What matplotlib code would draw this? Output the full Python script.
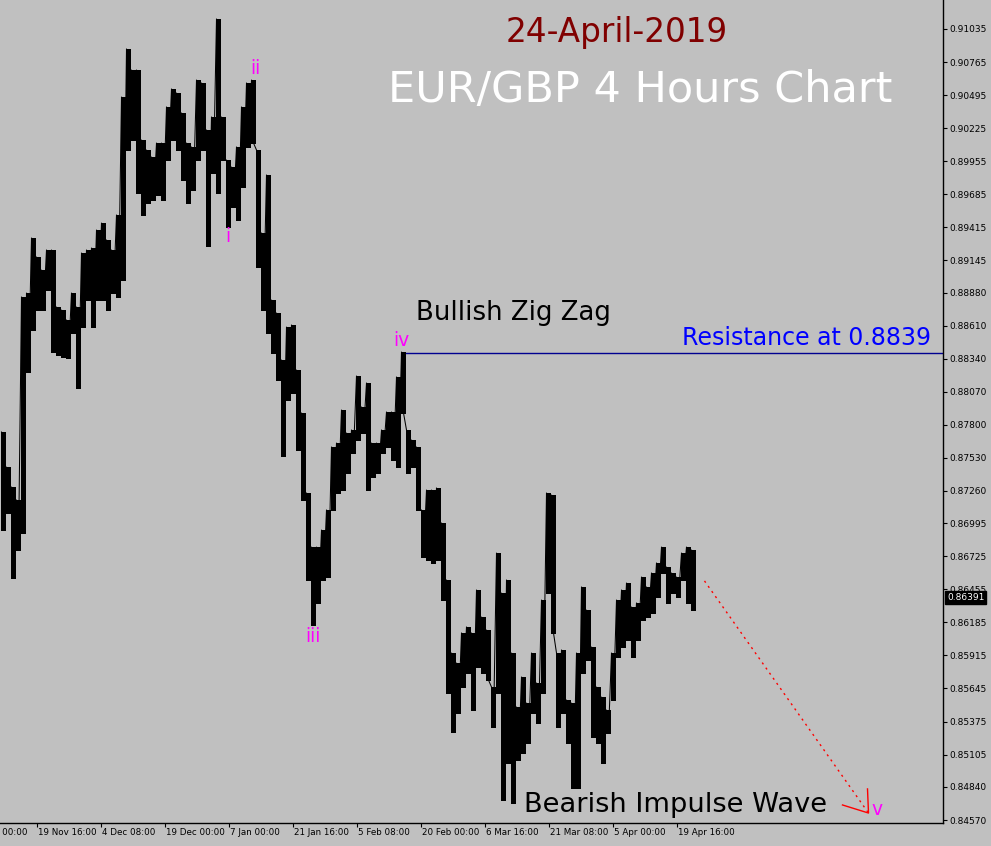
import matplotlib
matplotlib.use("Agg")
import matplotlib.pyplot as plt
import matplotlib.transforms as mtransforms
import numpy as np

# ---- data (each entry = one group of 5 four-hour bars) ----
highs = [0.87741, 0.87455, 0.87292, 0.87186, 0.88845, 0.88877, 0.89327, 0.89172, 0.89065, 0.89229,
         0.89229, 0.88763, 0.88738, 0.88657, 0.88877, 0.88763, 0.89204, 0.89229, 0.89245, 0.89392,
         0.89449, 0.89311, 0.89229, 0.89515, 0.90479, 0.90872, 0.90700, 0.90700, 0.90128, 0.90046,
         0.89989, 0.90103, 0.90103, 0.90398, 0.90545, 0.90512, 0.90349, 0.90103, 0.90071, 0.90618,
         0.90594, 0.90210, 0.90316, 0.91117, 0.90316, 0.89964, 0.89907, 0.90071, 0.90398, 0.90594,
         0.90618, 0.90046, 0.89368, 0.89842, 0.88820, 0.88714, 0.88330, 0.88599, 0.88616, 0.88248,
         0.87897, 0.87243, 0.86801, 0.86801, 0.86940, 0.87104, 0.87619, 0.87651, 0.87921, 0.87733,
         0.87758, 0.88199, 0.87946, 0.88142, 0.87651, 0.87651, 0.87758, 0.87905, 0.87905, 0.88191,
         0.88395, 0.87758, 0.87676, 0.87619, 0.87104, 0.87267, 0.87267, 0.87284, 0.86998, 0.86532,
         0.85935, 0.85853, 0.86099, 0.86148, 0.86099, 0.86450, 0.86229, 0.86123, 0.85657, 0.86752,
         0.86425, 0.86532, 0.85935, 0.85494, 0.85739, 0.85526, 0.85935, 0.85690, 0.86368, 0.87243,
         0.87226, 0.85935, 0.85960, 0.85551, 0.85526, 0.85935, 0.86475, 0.86286, 0.85984, 0.85657,
         0.85575, 0.85469, 0.85935, 0.86368, 0.86450, 0.86507, 0.86311, 0.86344, 0.86556, 0.86475,
         0.86589, 0.86671, 0.86801, 0.86638, 0.86589, 0.86556, 0.86752, 0.86801, 0.86777]
lows = [0.86940, 0.87079, 0.86548, 0.86777, 0.86916, 0.88232, 0.88575, 0.88738, 0.88738, 0.88902,
        0.88395, 0.88371, 0.88354, 0.88346, 0.88550, 0.88101, 0.88599, 0.88820, 0.88599, 0.88820,
        0.88820, 0.88738, 0.88877, 0.88845, 0.88984, 0.90046, 0.90128, 0.89695, 0.89515, 0.89613,
        0.89637, 0.89678, 0.89637, 0.89964, 0.90128, 0.90046, 0.89801, 0.89613, 0.89719, 0.89964,
        0.90046, 0.89261, 0.89858, 0.89695, 0.89964, 0.89417, 0.89580, 0.89474, 0.89744, 0.90071,
        0.90103, 0.89090, 0.88738, 0.88550, 0.88387, 0.88166, 0.87545, 0.88003, 0.88060, 0.87594,
        0.87186, 0.86532, 0.86164, 0.86344, 0.86532, 0.86556, 0.87104, 0.87243, 0.87267, 0.87406,
        0.87570, 0.87676, 0.87733, 0.87267, 0.87374, 0.87406, 0.87570, 0.87619, 0.87512, 0.87455,
        0.87897, 0.87406, 0.87455, 0.87104, 0.86720, 0.86695, 0.86671, 0.86695, 0.86368, 0.85608,
        0.85289, 0.85445, 0.85657, 0.85772, 0.85469, 0.85821, 0.85772, 0.85714, 0.85330, 0.85608,
        0.84734, 0.85036, 0.84709, 0.85061, 0.85118, 0.85200, 0.85445, 0.85363, 0.85608, 0.86425,
        0.86099, 0.85330, 0.85445, 0.85200, 0.84832, 0.84832, 0.85772, 0.85878, 0.85249, 0.85200,
        0.85036, 0.85281, 0.85551, 0.85902, 0.85984, 0.86041, 0.85902, 0.86041, 0.86205, 0.86229,
        0.86262, 0.86393, 0.86589, 0.86344, 0.86425, 0.86393, 0.86532, 0.86344, 0.86286]
bars_per_group = 5

price_ticks = [0.91035, 0.90765, 0.90495, 0.90225, 0.89955, 0.89685, 0.89415, 0.89145, 0.88880,
               0.88610, 0.88340, 0.88070, 0.87800, 0.87530, 0.87260, 0.86995, 0.86725, 0.86455,
               0.86185, 0.85915, 0.85645, 0.85375, 0.85105, 0.84840, 0.84570]
date_labels = ["5 Nov 00:00", "19 Nov 16:00", "4 Dec 08:00", "19 Dec 00:00", "7 Jan 00:00",
               "21 Jan 16:00", "5 Feb 08:00", "20 Feb 00:00", "6 Mar 16:00", "21 Mar 08:00",
               "5 Apr 00:00", "19 Apr 16:00"]
date_bar_index = [-28, 36, 100, 164, 228, 292, 356, 420, 484, 548, 612, 676]

resistance_price = 0.8839
resistance_start_bar = 400
last_price = 0.86391

wave_names = ["i", "ii", "iii", "iv", "v"]
wave_bar = [227, 255, 312, 401, 877]
wave_price = [0.89343, 0.90716, 0.86066, 0.88493, 0.84652]

forecast_start = (704, 0.86524)
forecast_end = (868, 0.84627)
arrow_head_a = (842, 0.84693)
arrow_head_b = (867, 0.84824)

# ---- figure ----
W, H = 991, 846
BG = "#C0C0C0"
fig = plt.figure(figsize=(W / 100, H / 100), dpi=100, facecolor=BG)
ax = fig.add_axes([0, 23 / H, 943 / W, 823 / H], facecolor=BG)
ax.set_xlim(-0.5, 942.5)
ax.set_ylim(0.845456, 0.91272)

# price bars: each group of 5 bars drawn as thin high-low strokes
n = len(highs)
gx = np.arange(n) * bars_per_group
offsets = np.array([1.0, 3.0])
vx = (gx[:, None] + offsets[None, :]).ravel()
vlo = np.repeat(lows, len(offsets))
vhi = np.repeat(highs, len(offsets))
ax.vlines(vx, vlo, vhi, color="black", lw=0.75, antialiased=False, zorder=3)
# connectors so consecutive groups join like overlapping bars
xs = (gx[:, None] + offsets[None, :]).ravel()
ys = np.column_stack([highs, lows]).ravel()
ax.plot(xs, ys, color="black", lw=0.75, zorder=3)

# resistance line
ax.hlines(resistance_price, resistance_start_bar, 942.5, color="#000090", lw=1.0, zorder=2)

# forecast arrow
ax.plot([forecast_start[0], forecast_end[0]], [forecast_start[1], forecast_end[1]],
        color="red", lw=1.0, ls=(0, (1.5, 3)), zorder=4)
ax.plot([arrow_head_a[0], forecast_end[0], arrow_head_b[0]],
        [arrow_head_a[1], forecast_end[1], arrow_head_b[1]], color="red", lw=1.0, zorder=4)

# wave labels
for name, bx, py in zip(wave_names, wave_bar, wave_price):
    ax.text(bx, py, name, color="#FF00FF", fontsize=13.5, ha="center", va="center", zorder=5)

# annotations
ax.text(505, 0.90929, "24-April-2019", color="#800000", fontsize=23.5, ha="left", va="baseline")
ax.text(388, 0.90438, "EUR/GBP 4 Hours Chart", color="white", fontsize=31, ha="left", va="baseline")
ax.text(416, 0.88657, "Bullish Zig Zag", color="black", fontsize=18.7, ha="left", va="baseline")
ax.text(681, 0.88452, "Resistance at 0.8839", color="#0000FF", fontsize=17, ha="left", va="baseline")
ax.text(524, 0.84636, "Bearish Impulse Wave", color="black", fontsize=19.6, ha="left", va="baseline")

# axes styling
for s in ["left", "top"]:
    ax.spines[s].set_visible(False)
for s in ["right", "bottom"]:
    ax.spines[s].set_color("black")
    ax.spines[s].set_linewidth(1.0)

ax.yaxis.tick_right()
ax.set_yticks(price_ticks)
ax.set_yticklabels([f"{p:.5f}" for p in price_ticks])
ax.tick_params(axis="y", direction="out", length=3, width=0.8, pad=1.5, labelsize=6.5,
               colors="black")

vis = [b for b in date_bar_index if b >= 0]
ax.set_xticks(vis)
ax.set_xticklabels([])
ax.tick_params(axis="x", direction="out", length=3, width=0.8, colors="black")
for lbl, b in zip(date_labels, date_bar_index):
    ax.annotate(lbl, xy=(b, 0), xycoords=("data", "axes fraction"), xytext=(1, -3.5),
                textcoords="offset points", ha="left", va="top", fontsize=6.3,
                annotation_clip=False)

# current price marker
trans = mtransforms.blended_transform_factory(ax.transAxes, ax.transData)
ax.annotate(f"{last_price:.5f}", xy=(1.0, last_price), xycoords=trans, xytext=(3, 0),
            textcoords="offset points", ha="left", va="center", fontsize=6.5, color="white",
            bbox=dict(boxstyle="square,pad=0.2", facecolor="black", edgecolor="black"),
            annotation_clip=False, zorder=10)

fig.savefig("out.png", dpi=100, facecolor=BG)
